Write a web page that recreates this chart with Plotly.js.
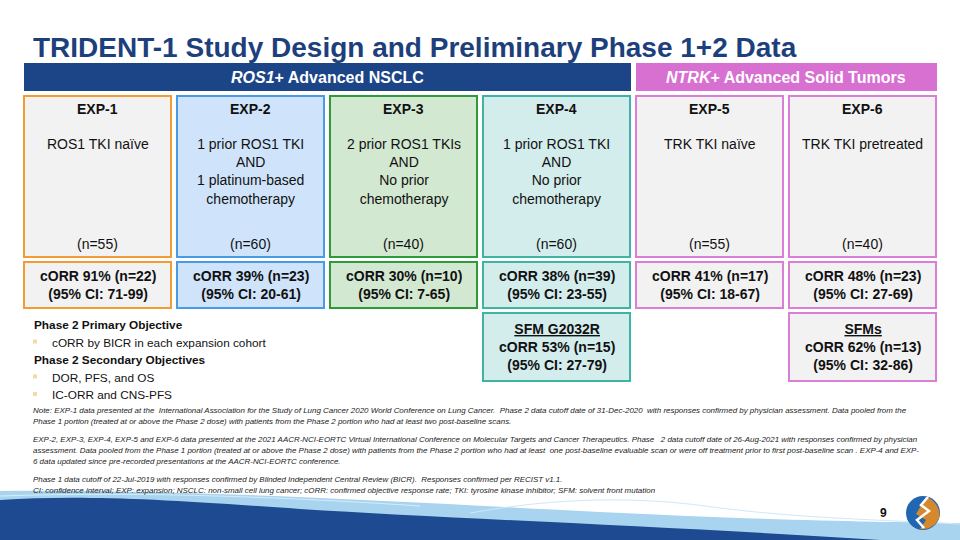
<!DOCTYPE html>
<html>
<head>
<meta charset="utf-8">
<script src="https://cdn.plot.ly/plotly-3.0.1.min.js"></script>
<style>
  html, body { margin: 0; padding: 0; background: #fff; }
  #slide { width: 960px; height: 540px; }
</style>
</head>
<body>
<div id="slide"></div>
<script>
// cohort data
const cohorts = ['EXP-1', 'EXP-2', 'EXP-3', 'EXP-4', 'EXP-5', 'EXP-6'];
const criteria = [
    'ROS1 TKI naïve',
    '1 prior ROS1 TKI<br>AND<br>1 platinum-based<br>chemotherapy',
    '2 prior ROS1 TKIs<br>AND<br>No prior<br>chemotherapy',
    '1 prior ROS1 TKI<br>AND<br>No prior<br>chemotherapy',
    'TRK TKI naïve',
    'TRK TKI pretreated'
];
const nPatients = [55, 60, 40, 60, 55, 40];
const corrPct = [91, 39, 30, 38, 41, 48];
const corrN = [22, 23, 10, 39, 17, 23];
const ciLow = [71, 20, 7, 23, 18, 27];
const ciHigh = [99, 61, 65, 55, 67, 69];

// solvent front mutation subgroups (column index into cohorts)
const sfmCol = [3, 5];
const sfmLabel = ['SFM G2032R', 'SFMs'];
const sfmPct = [53, 62];
const sfmN = [15, 13];
const sfmLow = [27, 32];
const sfmHigh = [79, 86];

const primaryObj = ['cORR by BICR in each expansion cohort'];
const secondaryObj = ['DOR, PFS, and OS', 'IC-ORR and CNS-PFS'];

const notes = [
    'Note: EXP-1 data presented at the  International Association for the Study of Lung Cancer 2020 World Conference on Lung Cancer.  Phase 2 data cutoff date of 31-Dec-2020  with responses confirmed by physician assessment. Data pooled from the',
    'Phase 1 portion (treated at or above the Phase 2 dose) with patients from the Phase 2 portion who had at least two post-baseline scans.',
    '',
    'EXP-2, EXP-3, EXP-4, EXP-5 and EXP-6 data presented at the 2021 AACR-NCI-EORTC Virtual International Conference on Molecular Targets and Cancer Therapeutics. Phase   2 data cutoff date of 26-Aug-2021 with responses confirmed by physician',
    'assessment. Data pooled from the Phase 1 portion (treated at or above the Phase 2 dose) with patients from the Phase 2 portion who had at least  one post-baseline evaluable scan or were off treatment prior to first post-baseline scan . EXP-4 and EXP-',
    '6 data updated since pre-recorded presentations at the AACR-NCI-EORTC conference.',
    '',
    'Phase 1 data cutoff of 22-Jul-2019 with responses confirmed by Blinded Independent Central Review (BICR).  Responses confirmed per RECIST v1.1.',
    'CI: confidence interval; EXP: expansion; NSCLC: non-small cell lung cancer; cORR: confirmed objective response rate; TKI: tyrosine kinase inhibitor; SFM: solvent front mutation'
];

const borderColors = ['#f39c34', '#4a9be6', '#2f9a3c', '#3db4a5', '#db7ed6', '#db7ed6'];
const fillColors = ['#f2f2f2', '#cfe4fb', '#d2e8d1', '#d3ecec', '#f2f2f2', '#f2f2f2'];
const FONT = 'Liberation Sans, Arial, sans-serif';
const NAVY = '#1c4587';

const shapes = [];
const annotations = [];

function box(x0, y0, x1, y1, line, fill) {
    shapes.push({type: 'rect', xref: 'x', yref: 'y', x0: x0, x1: x1, y0: y0, y1: y1,
        line: {color: line, width: 2}, fillcolor: fill, layer: 'below'});
}
function label(x, y, text, size, opts) {
    annotations.push(Object.assign({
        x: x, y: y, xref: 'x', yref: 'y', text: text, showarrow: false,
        xanchor: 'center', yanchor: 'middle', align: 'center',
        font: {family: FONT, size: size, color: '#111'}
    }, opts || {}));
}

// title
label(31, 47, '<b>TRIDENT-1 Study Design and Preliminary Phase 1+2 Data</b>', 28,
    {xanchor: 'left', font: {family: FONT, size: 28, color: '#1d3f7c'}});

// header banners
shapes.push({type: 'rect', x0: 24, x1: 631, y0: 63, y1: 91, line: {width: 0}, fillcolor: NAVY});
shapes.push({type: 'rect', x0: 636, x1: 937, y0: 63, y1: 91, line: {width: 0}, fillcolor: '#d870d2'});
label(327, 77, '<b><i>ROS1</i>+ Advanced NSCLC</b>', 16, {font: {family: FONT, size: 16, color: '#fff'}});
label(786, 77, '<b><i>NTRK</i>+ Advanced Solid Tumors</b>', 16, {font: {family: FONT, size: 16, color: '#fff'}});

// cohort boxes
const colW = 147, step = 153, left0 = 24;
cohorts.forEach((c, i) => {
    const x0 = left0 + i * step, x1 = x0 + colW, cx = (x0 + x1) / 2;
    box(x0, 96, x1, 257, borderColors[i], fillColors[i]);
    box(x0, 262, x1, 308, borderColors[i], fillColors[i]);
    label(cx, 109, '<b>' + c + '</b>', 14);
    label(cx, 134, criteria[i], 14, {yanchor: 'top'});
    label(cx, 244, '(n=' + nPatients[i] + ')', 14);
    label(cx, 285, '<b>cORR ' + corrPct[i] + '% (n=' + corrN[i] + ')<br>(95% CI: ' +
        ciLow[i] + '-' + ciHigh[i] + ')</b>', 14);
});

sfmCol.forEach((col, k) => {
    const x0 = left0 + col * step, x1 = x0 + colW, cx = (x0 + x1) / 2;
    box(x0, 313, x1, 381, borderColors[col], fillColors[col]);
    label(cx, 347, '<b><span style="text-decoration:underline">' + sfmLabel[k] + '</span><br>cORR ' +
        sfmPct[k] + '% (n=' + sfmN[k] + ')<br>(95% CI: ' + sfmLow[k] + '-' + sfmHigh[k] + ')</b>', 14);
});

// objectives
let oy = 325;
function heading(t) {
    label(32, oy, '<b>' + t + '</b>', 11.8, {xanchor: 'left'});
    oy += 17.5;
}
function bullet(t) {
    shapes.push({type: 'rect', x0: 33, x1: 37, y0: oy - 3, y1: oy + 1, line: {width: 0}, fillcolor: '#f6d9a6'});
    label(50, oy, t, 11.8, {xanchor: 'left'});
    oy += 17.5;
}
heading('Phase 2 Primary Objective');
primaryObj.forEach(bullet);
heading('Phase 2 Secondary Objectives');
secondaryObj.forEach(bullet);

// footnotes
let ny = 410;
notes.forEach(t => {
    if (t) label(31, ny, '<i>' + t + '</i>', 7.95, {xanchor: 'left', font: {family: FONT, size: 7.95, color: '#222'}});
    ny += t ? 11.3 : 6.5;
});

// footer wave
shapes.push({type: 'path', path: 'M0,491 C200,489 420,503 600,512 C760,520 880,522 960,523 L960,540 L0,540 Z',
    fillcolor: '#a9d4f0', line: {width: 0}, layer: 'below'});
shapes.push({type: 'path', path: 'M0,500 C80,495 160,499 300,509 C460,519 700,528 880,540 L0,540 Z',
    fillcolor: '#1d4a91', line: {width: 0}, layer: 'below'});
shapes.push({type: 'path', path: 'M0,496 C150,491 300,498 420,506', line: {color: '#d6ecf9', width: 1}, layer: 'below'});
shapes.push({type: 'path', path: 'M470,513 C560,497 640,496 720,508 C800,518 880,520 960,524', line: {color: '#cfe8f7', width: 1}, layer: 'below'});

// page number and logo
label(883, 513, '<b>9</b>', 12);
shapes.push({type: 'circle', x0: 906, x1: 940, y0: 496, y1: 530, line: {width: 0}, fillcolor: '#2166b0'});
shapes.push({type: 'path', path: 'M926,497 C936,500 941,510 939,518 C936,526 928,530 920,529 L926,520 L916,514 Z',
    line: {width: 0}, fillcolor: '#d5882c'});
shapes.push({type: 'path', path: 'M928,497 L921,505 L929,511 L917,520 L924,528',
    line: {color: '#fff', width: 2.5}});

const layout = {
    width: 960, height: 540,
    margin: {l: 0, r: 0, t: 0, b: 0},
    paper_bgcolor: '#fff', plot_bgcolor: '#fff',
    xaxis: {range: [0, 960], visible: false, fixedrange: true},
    yaxis: {range: [540, 0], visible: false, fixedrange: true},
    showlegend: false,
    shapes: shapes,
    annotations: annotations
};

Plotly.newPlot('slide', [], layout, {displayModeBar: false, staticPlot: true});
</script>
</body>
</html>
